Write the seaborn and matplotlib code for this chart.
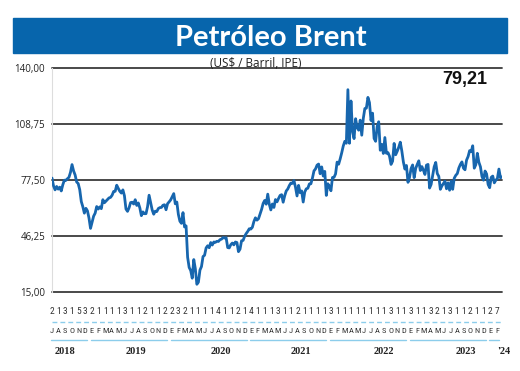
import pandas as pd
import matplotlib
matplotlib.use('Agg')
import matplotlib.pyplot as plt
import seaborn as sns
from matplotlib.patches import Rectangle
from matplotlib.lines import Line2D

# -------------------------------
# DATA (weekly Brent, US$/barrel)
# -------------------------------
brent_2018 = [78.6, 74.2, 72.0, 73.9, 72.4,
              73.5, 71.4, 74.8, 77.4,
              77.3, 78.2, 79.0, 81.8,
              86.1, 82.6, 80.3, 76.4, 75.5,
              72.1, 65.5, 62.6, 59.0,
              61.7, 60.3, 56.3, 50.5, 53.8]
brent_2019 = [57.3, 59.0, 62.7, 61.3,
              62.5, 61.5, 66.5, 64.8,
              65.7, 66.6, 67.5, 67.8,
              69.0, 71.1, 71.2, 74.6, 72.8,
              71.2, 70.2, 72.0, 68.7,
              61.3, 60.0, 62.0, 64.9,
              65.1, 64.1, 66.5, 63.3, 64.7,
              61.9, 57.6, 59.7, 58.7,
              58.7, 62.6, 69.0, 64.8, 60.8,
              58.4, 60.1, 59.9, 61.6,
              62.1, 62.2, 63.4, 63.7,
              60.9, 64.3, 65.3, 66.4, 68.2]
brent_2020 = [69.9, 64.2, 65.2, 58.3,
              54.5, 53.3, 59.3, 51.3,
              51.9, 34.4, 28.7, 27.0, 22.7,
              33.1, 28.0, 19.3, 20.5,
              27.2, 29.2, 34.8, 35.5,
              39.6, 40.8, 39.7, 42.6, 41.2,
              42.9, 42.7, 43.3, 43.2,
              44.2, 44.5, 45.4, 45.1, 45.3,
              39.8, 39.6, 41.4, 42.3,
              41.3, 42.9, 42.6, 37.5,
              38.9, 43.6, 43.8, 46.1, 47.6,
              48.8, 50.3, 50.1, 51.1]
brent_2021 = [54.3, 56.4, 55.1, 55.9,
              58.5, 61.1, 64.4, 66.1,
              64.0, 69.6, 64.0, 60.8, 64.1,
              62.2, 66.6, 65.3, 67.2,
              68.9, 69.3, 65.1, 68.7, 71.4,
              72.5, 74.4, 75.8, 75.6,
              77.2, 73.5, 68.6, 74.5,
              70.4, 71.4, 65.2, 70.8, 72.6,
              72.9, 75.3, 75.4, 78.6,
              82.6, 83.7, 85.8, 86.4,
              81.0, 84.8, 79.7, 82.3, 68.9,
              75.4, 73.9, 71.5, 78.9]
brent_2022 = [79.0, 80.9, 87.5, 86.3, 89.3,
              92.7, 96.5, 99.1, 98.0,
              127.9, 98.0, 121.6, 104.7,
              100.6, 111.7, 106.8, 105.3,
              110.9, 102.5, 111.9, 117.4, 117.6,
              123.6, 120.7, 110.7, 114.8,
              100.7, 99.1, 107.4, 110.0,
              94.1, 97.4, 92.3, 101.2, 92.4,
              92.8, 90.8, 86.2, 88.0,
              97.9, 91.6, 93.5, 95.8, 98.6,
              93.7, 87.6, 83.6, 85.6,
              76.2, 79.0, 83.9, 85.9]
brent_2023 = [78.8, 84.0, 86.2, 88.2, 82.8,
              85.0, 83.0, 80.6, 85.8,
              86.2, 73.0, 75.0, 79.8,
              84.9, 87.3, 81.1, 79.5,
              72.3, 74.2, 75.6, 76.9, 72.6,
              75.9, 71.8, 76.8, 72.3,
              78.5, 80.1, 81.1, 84.2, 86.2,
              87.6, 84.1, 83.2, 88.6,
              90.6, 93.9, 93.3, 96.6,
              84.1, 86.0, 92.4, 87.4, 84.9,
              79.5, 77.4, 82.5, 80.9,
              75.0, 73.2, 79.0, 79.7]
brent_2024 = [75.9, 77.4, 78.3, 83.6, 78.7, 79.21]

y_ticks = [15.0, 46.25, 77.5, 108.75, 140.0]
y_tick_labels = ['15,00', '46,25', '77,50', '108,75', '140,00']
last_value_label = '79,21'

month_letters = ['J', 'A', 'S', 'O', 'N', 'D',
                 'E', 'F', 'M', 'A', 'M', 'J', 'J', 'A', 'S', 'O', 'N', 'D',
                 'E', 'F', 'M', 'A', 'M', 'J', 'J', 'A', 'S', 'O', 'N', 'D',
                 'E', 'F', 'M', 'A', 'M', 'J', 'J', 'A', 'S', 'O', 'N', 'D',
                 'E', 'F', 'M', 'A', 'M', 'J', 'J', 'A', 'S', 'O', 'N', 'D',
                 'E', 'F', 'M', 'A', 'M', 'J', 'J', 'A', 'S', 'O', 'N', 'D',
                 'E', 'F']
month_digits = ['2', '1', '3', '1', '5', '3', '2', '1', '1', '1', '1', '3',
                '1', '1', '2', '1', '1', '2', '2', '3', '2', '1', '1', '1',
                '1', '4', '1', '1', '2', '1', '4', '1', '1', '1', '3', '1',
                '1', '2', '1', '1', '1', '1', '3', '1', '1', '1', '1', '1',
                '1', '1', '1', '3', '1', '1', '3', '1', '1', '3', '2', '1',
                '3', '1', '1', '2', '1', '1', '2', '7']
year_labels = ['2018', '2019', '2020', '2021', '2022', '2023', "'24"]
year_months = [6, 12, 12, 12, 12, 12, 2]

# -------------------------------
# STYLE / LAYOUT
# -------------------------------
W, H = 520, 371
BLUE = '#0765AC'
LINE = '#1766AE'
LIGHT = '#8CCDEB'
GRID = '#3a3a3a'
SLOT = 6.64          # px between month slots
X0, X1 = 52, 502     # plot area, px
Y_TOP, Y_BOT = 68, 292
year_label_slot = [1.9, 12.7, 25.5, 37.5, 50.0, 62.4, 68.1]

sns.set_theme(style='white')
plt.rcParams['font.family'] = ['Open Sans', 'DejaVu Sans']

prices = brent_2018 + brent_2019 + brent_2020 + brent_2021 + brent_2022 + brent_2023 + brent_2024
df = pd.DataFrame({
    'fecha': pd.date_range('2018-07-02', periods=len(prices), freq='7D'),
    'precio': prices,
})

fig = plt.figure(figsize=(W / 100, H / 100), dpi=100)
fig.patch.set_facecolor('white')
ax = fig.add_axes([X0 / W, 1 - Y_BOT / H, (X1 - X0) / W, (Y_BOT - Y_TOP) / H])

for t in y_ticks:
    ax.axhline(t, color=GRID, lw=1.3, clip_on=False, zorder=1)

sns.lineplot(data=df, x='fecha', y='precio', ax=ax, color=LINE, linewidth=2.0, zorder=3)

ax.set_xlim(df['fecha'].min(), df['fecha'].max())
ax.set_ylim(15, 140)
ax.set_yticks(y_ticks)
ax.set_yticklabels(y_tick_labels)
ax.set_xticks([])
ax.set_xlabel('')
ax.set_ylabel('')
ax.tick_params(axis='y', length=0, pad=5, labelsize=7, labelcolor='#222222')
for s in ['top', 'right', 'bottom']:
    ax.spines[s].set_visible(False)
ax.spines['left'].set_color('#dddddd')
ax.spines['left'].set_linewidth(0.8)

ax.text(0.967, 0.985, last_value_label, transform=ax.transAxes, ha='right', va='top',
        fontsize=13, fontweight='bold', color='#111111', family='Liberation Sans')

# title banner
fig.patches.append(Rectangle((13 / W, 1 - 52.5 / H), 494 / W, 35 / H,
                             transform=fig.transFigure, color=BLUE, zorder=0))
fig.text(271 / W, 1 - 45.5 / H, 'Petróleo Brent', ha='center', va='baseline',
         fontsize=21, fontweight='bold', color='white', family='Lato')
fig.text(256 / W, 1 - 63.5 / H, '(US$ / Barril, IPE)', ha='center', va='center',
         fontsize=8.5, color='#222222')

# month axis rows (condensed face where available)
narrow = ['Roboto Condensed', 'DejaVu Sans']
for i, (d, m) in enumerate(zip(month_digits, month_letters)):
    x = (X0 + SLOT * i) / W
    fig.text(x, 1 - 311 / H, d, ha='center', va='center', fontsize=6.8,
             color='#333333', family=narrow, fontstretch='condensed')
    fig.text(x, 1 - 331 / H, m, ha='center', va='center', fontsize=6.0,
             color='#333333', family=narrow, fontstretch='condensed')

fig.add_artist(Line2D([X0 / W, X1 / W], [1 - 322 / H] * 2, transform=fig.transFigure,
                      color=LIGHT, lw=1.0, linestyle=(0, (3.5, 2.2))))

start = 0
for lab, n, pos in zip(year_labels, year_months, year_label_slot):
    xa = (X0 + SLOT * start - 1) / W
    xb = (X0 + SLOT * (start + n - 1) + 2) / W
    fig.add_artist(Line2D([xa, xb], [1 - 340 / H] * 2, transform=fig.transFigure,
                          color=LIGHT, lw=1.0))
    fig.text((X0 + SLOT * pos) / W, 1 - 352 / H, lab, ha='center', va='center',
             fontsize=7.5, fontweight='bold', color='#222222', family='Liberation Serif')
    start += n

plt.savefig('out.png', dpi=100)
plt.close()
